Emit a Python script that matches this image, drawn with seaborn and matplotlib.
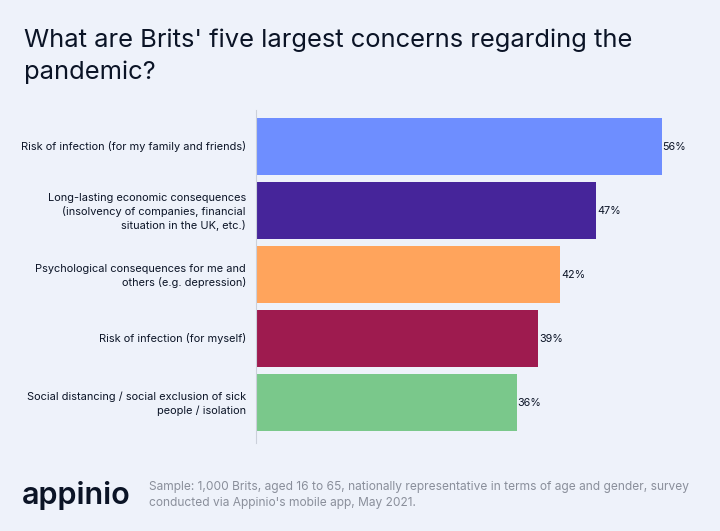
import matplotlib
matplotlib.use("Agg")
import matplotlib.pyplot as plt
from matplotlib.transforms import ScaledTranslation
import seaborn as sns
import pandas as pd

#chart data
concerns = [
    "Risk of infection (for my family and friends)",
    "Long-lasting economic consequences\n(insolvency of companies, financial\nsituation in the UK, etc.)",
    "Psychological consequences for me and\nothers (e.g. depression)",
    "Risk of infection (for myself)",
    "Social distancing / social exclusion of sick\npeople / isolation",
]
shares = [56, 47, 42, 39, 36]
bar_colors = ["#6E8EFF", "#46259A", "#FFA45C", "#9E1B4F", "#7AC88B"]

title = "What are Brits' five largest concerns regarding the\npandemic?"
note = ("Sample: 1,000 Brits, aged 16 to 65, nationally representative in terms of age and gender, survey\n"
        "conducted via Appinio's mobile app, May 2021.")

BG = "#EEF2FA"
INK = "#0B1426"

sns.set_theme(style="white")
plt.rcParams["font.family"] = ["Inter", "DejaVu Sans"]

fig = plt.figure(figsize=(7.2, 5.31), dpi=100, facecolor=BG)
W, H = 720, 531
#axes box in pixels: x 256 to 700, y 110 to 443
ax = fig.add_axes([256 / W, 1 - 443 / H, 444 / W, 333 / H], facecolor=BG)

df = pd.DataFrame({"concern": concerns, "share": shares})
sns.barplot(data=df, x="share", y="concern", hue="concern", palette=bar_colors,
            legend=False, width=0.9, saturation=1, linewidth=0, ax=ax)

ax.set_xlim(0, 444 / (405.5 / 56))
ax.set_ylim(4.633, -0.57)
ax.set_xlabel("")
ax.set_ylabel("")
ax.set_xticks([])
ax.tick_params(axis="y", length=0, pad=7.2, labelsize=7.9, colors=INK)
up = ScaledTranslation(0, 1 / 100, fig.dpi_scale_trans)
for lab in ax.get_yticklabels():
    lab.set_ha("right")
    lab.set_multialignment("right")
    lab.set_linespacing(1.33)
    lab.set_transform(lab.get_transform() + up)

sns.despine(ax=ax, left=False, bottom=True)
ax.spines["left"].set_color("#CBD0DA")
ax.spines["left"].set_linewidth(0.8)

for i, v in enumerate(shares):
    ax.annotate(f"{v}%", (v, i), xytext=(0.6, -0.7), textcoords="offset points",
                va="center", ha="left", fontsize=7.75, color=INK)

fig.text(24 / W, 1 - 56 / H, title, fontsize=18.4, color=INK, va="center", ha="left", linespacing=1.45)
fig.text(22 / W, 1 - 495 / H, "appinio", fontsize=22, color=INK, va="center", ha="left", fontweight="semibold")
fig.text(149 / W, 1 - 495 / H, note, fontsize=8.62, color="#8A8F9B", va="center", ha="left", linespacing=1.5)

fig.savefig("out.png", dpi=100, facecolor=BG)
